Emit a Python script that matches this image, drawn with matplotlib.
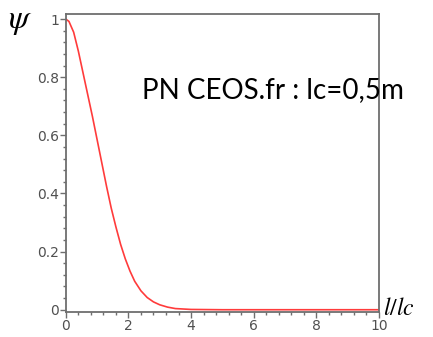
import numpy as np
import matplotlib.pyplot as plt
from matplotlib.ticker import MultipleLocator

plt.rcParams['mathtext.fontset'] = 'stix'

#------------------------------------------------------------------------------
# valeurs (l/lc, psi)
l_lc = [0.0, 0.1, 0.25, 0.4, 0.55, 0.7, 0.85, 1.0, 1.15, 1.3, 1.45, 1.6,
        1.75, 1.9, 2.05, 2.2, 2.4, 2.6, 2.8, 3.0, 3.25, 3.5, 4.0, 5.0, 6.0,
        8.0, 10.0]
psi = [1.0, 0.992, 0.955, 0.89, 0.815, 0.74, 0.665, 0.585, 0.505, 0.425,
       0.35, 0.285, 0.225, 0.175, 0.133, 0.098, 0.065, 0.042, 0.027, 0.017,
       0.009, 0.004, 0.001, 0.0, 0.0, 0.0, 0.0]

x_ticks = [0, 2, 4, 6, 8, 10]
y_ticks = [0, 0.2, 0.4, 0.6, 0.8, 1]
y_labels = ['0', '0.2', '0.4', '0.6', '0.8', '1']
note = 'PN CEOS.fr : lc=0,5m'

#------------------------------------------------------------------------------
grey = '#6e6e6e'

fig = plt.figure(figsize=(4.33, 3.37), dpi=100)
ax = fig.add_axes([0.152, 0.074, 0.723, 0.884])

ax.plot(l_lc, psi, color='#ff3b3b', lw=1.2)

ax.set_xlim(0, 10)
ax.set_ylim(-0.008, 1.017)
ax.set_xticks(x_ticks)
ax.set_xticklabels([str(t) for t in x_ticks])
ax.set_yticks(y_ticks)
ax.set_yticklabels(y_labels)
ax.xaxis.set_minor_locator(MultipleLocator(0.4))
ax.yaxis.set_minor_locator(MultipleLocator(0.04))

for sp in ax.spines.values():
    sp.set_color(grey)
    sp.set_linewidth(1.3)

ax.tick_params(which='major', direction='out', length=4, width=1, color=grey,
               labelcolor='#505050', labelsize=10, pad=1)
ax.tick_params(which='minor', direction='out', length=2.5, width=1, color=grey)

fig.text(0.018, 0.94, r'$\psi$', fontsize=24, ha='left', va='center')
fig.text(0.885, 0.085, r'$l/lc$', fontsize=17, ha='left', va='center')
ax.text(0.243, 0.745, note, transform=ax.transAxes, fontsize=20, family='Lato',
        ha='left', va='center', clip_on=False, zorder=5)

fig.savefig('out.png', dpi=100)
